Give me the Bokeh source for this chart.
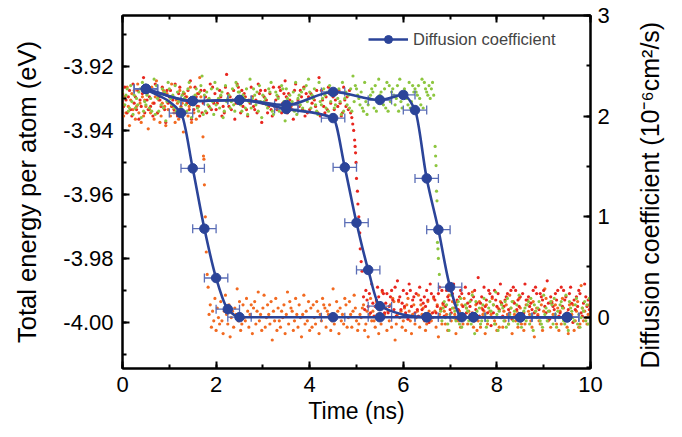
import math
from bokeh.plotting import figure
from bokeh.models import (Range1d, LinearAxis, SingleIntervalTicker,
                          PrintfTickFormatter, CustomJSTickFormatter, Legend,
                          LegendItem, ColumnDataSource)
from bokeh.embed import file_html
from bokeh.resources import INLINE

# ---------------- data ----------------
STEP = 0.025          # sampling interval of the energy traces (ns)
NOISE_SCALE = 0.001   # eV per noise letter step ('a'..'t', centre between 'j' and 'k')

# orange run
ORANGE_UP_START = 0.0
ORANGE_UP_LEVEL = -3.932
ORANGE_UP_NOISE = ("kgmhpjdlni" "ofjqhkemgl" "jncihpkfmr" "hlegkojdni"
                   "mgqjhelkfo" "ikbnhmgjpe" "lhkfnjsm")
ORANGE_DROP_T = [1.72, 1.73, 1.74, 1.75, 1.77, 1.79, 1.81, 1.83]
ORANGE_DROP_E = [-3.942, -3.948, -3.949, -3.957, -3.967, -3.978, -3.985, -3.989]
ORANGE_LOW_START = 1.85
ORANGE_LOW_LEVEL = -3.997
ORANGE_LOW_NOISE = ("jmfkhoelig" "nhdkpjgmci" "kfljrhnegm" "ihokfjmdln"
                    "gkqhjelpfi" "mjgnbkhoel" "hfkimdjqgn" "lkehojfmic"
                    "jpgkhnelfm" "ignkdjhoml" "fkjmehrgin" "kdlhjgomfi"
                    "njfkplhegj" "ilmegkcjoh" "khfnjdmgqi" "jlekhmfonb"
                    "gjnikfhlem" "okhdjmgikp" "fmjlhegnkj" "hiokfmcjlg"
                    "mkgjepihnl" "jdnhkfmgoi" "lgkjiqfhme" "hnfljkdmgi"
                    "kjomhgelfn" "ifkhmjgpld" "njhkfolgie" "gmikjhfnck"
                    "ljhgmekroi" "hkfnjimgle" "kgolhjfdmi" "jmehknfgsl"
                    "hkigjm")

# red run
RED_UP_START = 0.0
RED_UP_LEVEL = -3.930
RED_UP_NOISE = ("lhnjfkmgeo" "ikgmdjhlqf" "njgkhmeiol" "fkjhnlgcmi"
                "kmhjgofeln" "hjlfkimgpd" "jgnkhlemfi" "mkfjhognil"
                "gijmkehfnr" "lhkgjmdion" "jfmhlkgeji" "nkhgjfolmc"
                "ikmjfhlgen" "hjgknmfilp" "kfljhgdmoi" "jhmkgnelfk"
                "glikjhmfqe" "mjhfkgnlid" "kgjlhmiefn" "jhkgmf")
RED_DROP_T = [4.90, 4.92, 4.94, 4.96, 4.97, 4.98, 4.99, 5.00, 5.02, 5.03,
              5.05, 5.07, 5.08, 5.10, 5.12]
RED_DROP_E = [-3.936, -3.938, -3.940, -3.943, -3.945, -3.947, -3.950, -3.955,
              -3.959, -3.963, -3.967, -3.972, -3.977, -3.981, -3.984]
RED_LOW_START = 5.15
RED_LOW_LEVEL = -3.9925
RED_LOW_NOISE = ("kgmjhlfoie" "hjnkgdmlfi" "lfhkmjgnep" "jkgimhfldo"
                 "mhjkflgenj" "gikhmjcolf" "kjfhlngmie" "hmkjgfloid"
                 "jgkmlhenfi" "lhjfkmgiqe" "ikgnhjfmlb" "kfmjhlgoie"
                 "hjklgfmdni" "mgjhkelfoj" "jkhigmfnle" "glkjmhfpid"
                 "kihgljmefn" "hmjkfglnic" "jgkhmlfeio" "khjg")

# green run
GREEN_UP_START = 0.0
GREEN_UP_LEVEL = -3.9295
GREEN_UP_NOISE = ("ljhkmfgnie" "kgjhlmdofi" "hkmgjflpen" "jfkhmglcio"
                  "mjhkgnflie" "gkljhfmoid" "jhkmgflnqe" "kflhjgmieo"
                  "hmjgkldfni" "jkgimhfonl" "lhfkjgmeip" "gjmkhlfnid"
                  "kijhgmlofe" "hlkjfgnmic" "mjgkhilfoe" "jkhlgmfnip"
                  "lgkjmhfeoi" "hjmkglfnid" "kghljmieof" "jlhkgmfqin"
                  "mkjhlgfoie" "hjkmlgnfip" "kljhmgofni" "lmkhjnfpig"
                  "kmljhoginl" "mlknjhpgom" "lknjmok")
GREEN_DROP_T = [6.68, 6.69, 6.70, 6.71, 6.72, 6.73, 6.74, 6.75, 6.77]
GREEN_DROP_E = [-3.945, -3.948, -3.951, -3.959, -3.962, -3.975, -3.977, -3.980, -3.985]
GREEN_LOW_START = 6.80
GREEN_LOW_LEVEL = -3.996
GREEN_LOW_NOISE = ("jgkmhlfdio" "khjglmfnei" "hlkjgmfoic" "mjhkfglnie"
                   "gkmjhlfpid" "jhlkgmenfi" "kmgjhlfoie" "hjkglmfnid"
                   "ljhkmgfeoi" "kgjhmlfnie" "jhlmkgfoid" "mkjhglnfie"
                   "hkjmglfn")

# diffusion coefficient (10^-6 cm^2/s), three runs
D1_T = [0.5, 1.25, 1.5, 1.75, 2.0, 2.25, 2.5, 4.5, 5.5, 6.5, 7.5, 8.5, 9.5]
D1_V = [2.27, 2.03, 1.48, 0.88, 0.39, 0.08, 0.0, 0.0, 0.0, 0.0, 0.0, 0.0, 0.0]
D1_ERR = [0.25] * len(D1_T)
D2_T = [0.5, 1.5, 2.5, 3.5, 4.5, 4.75, 5.0, 5.25, 5.5, 6.5, 7.5, 8.5, 9.5]
D2_V = [2.27, 2.15, 2.16, 2.07, 1.98, 1.49, 0.94, 0.47, 0.11, 0.0, 0.0, 0.0, 0.0]
D2_ERR = [0.25] * len(D2_T)
D3_T = [0.5, 1.5, 2.5, 3.5, 4.5, 5.5, 6.0, 6.25, 6.5, 6.75, 7.0, 7.25, 7.5, 8.5, 9.5]
D3_V = [2.27, 2.15, 2.16, 2.11, 2.24, 2.16, 2.21, 2.06, 1.38, 0.87, 0.30, 0.0, 0.0, 0.0, 0.0]
D3_ERR = [0.25] * len(D3_T)

X_TICK_INTERVAL = 2
Y_TICK_INTERVAL = 0.02
D_TICK_INTERVAL = 1
RIGHT_TITLE = "Diffusion coefficient (10\u207b\u2076cm\u00b2/s)"

# ---------------- styles ----------------
FONT = "Liberation Sans"
ORANGE = "#f26a21"
RED = "#e8261f"
GREEN = "#8dc63f"
BLUE = "#2b4499"
ERRC = "#5a6db6"


def band(start, level, noise):
    t = [start + i * STEP for i in range(len(noise))]
    e = [level + (ord(c) - ord("a") - 9.5) * NOISE_SCALE for c in noise]
    return t, e


def run_series(up, drop_t, drop_e, low):
    ut, ue = band(*up)
    lt, le = band(*low)
    return ut + list(drop_t) + lt, ue + list(drop_e) + le


def pchip_slopes(x, y):
    n = len(x)
    h = [x[i + 1] - x[i] for i in range(n - 1)]
    d = [(y[i + 1] - y[i]) / h[i] for i in range(n - 1)]
    m = [0.0] * n
    m[0] = d[0]
    m[-1] = d[-1]
    for i in range(1, n - 1):
        if d[i - 1] * d[i] <= 0:
            m[i] = 0.0
        else:
            w1 = 2 * h[i] + h[i - 1]
            w2 = h[i] + 2 * h[i - 1]
            m[i] = (w1 + w2) / (w1 / d[i - 1] + w2 / d[i])
    return m


def bezier_source(x, y):
    m = pchip_slopes(x, y)
    cols = dict(x0=[], y0=[], x1=[], y1=[], cx0=[], cy0=[], cx1=[], cy1=[])
    for i in range(len(x) - 1):
        h = x[i + 1] - x[i]
        cols["x0"].append(x[i]); cols["y0"].append(y[i])
        cols["x1"].append(x[i + 1]); cols["y1"].append(y[i + 1])
        cols["cx0"].append(x[i] + h / 3); cols["cy0"].append(y[i] + m[i] * h / 3)
        cols["cx1"].append(x[i + 1] - h / 3); cols["cy1"].append(y[i + 1] - m[i + 1] * h / 3)
    return ColumnDataSource(cols)


p = figure(width=680, height=435, x_range=Range1d(0, 10),
           y_range=Range1d(-4.0144, -3.9041),
           output_backend="svg", toolbar_location=None,
           min_border_left=122, min_border_right=88,
           min_border_top=15, min_border_bottom=67,
           x_axis_location=None, y_axis_location=None)
p.extra_y_ranges = {"diff": Range1d(-0.51, 3.0)}
p.grid.visible = False
p.outline_line_color = "black"
p.outline_line_width = 2
p.background_fill_color = "white"
p.border_fill_color = "white"


def style_axis(ax, title_size="23px"):
    ax.axis_line_width = 2
    ax.axis_line_color = "black"
    ax.major_tick_line_width = 2
    ax.minor_tick_line_width = 2
    ax.major_tick_in = 7
    ax.major_tick_out = 0
    ax.minor_tick_in = 4
    ax.minor_tick_out = 0
    ax.major_label_text_font = FONT
    ax.major_label_text_font_size = "22px"
    ax.major_label_text_color = "black"
    ax.axis_label_text_font = FONT
    ax.axis_label_text_font_size = title_size
    ax.axis_label_text_font_style = "normal"
    ax.axis_label_text_color = "black"


xb = LinearAxis(ticker=SingleIntervalTicker(interval=X_TICK_INTERVAL, num_minor_ticks=2),
                axis_label="Time (ns)")
style_axis(xb)
xb.major_label_standoff = 8
xb.axis_label_standoff = 3
p.add_layout(xb, "below")

xt = LinearAxis(ticker=SingleIntervalTicker(interval=X_TICK_INTERVAL, num_minor_ticks=2),
                formatter=CustomJSTickFormatter(code="return ''"))
style_axis(xt)
xt.major_label_standoff = 0
p.add_layout(xt, "above")

yl = LinearAxis(ticker=SingleIntervalTicker(interval=Y_TICK_INTERVAL, num_minor_ticks=2),
                formatter=PrintfTickFormatter(format="%.2f"),
                axis_label="Total energy per atom (eV)")
style_axis(yl, "25.5px")
yl.major_label_standoff = 9
yl.axis_label_standoff = 19
p.add_layout(yl, "left")

yr = LinearAxis(y_range_name="diff",
                ticker=SingleIntervalTicker(interval=D_TICK_INTERVAL, num_minor_ticks=2),
                axis_label=RIGHT_TITLE)
style_axis(yr, "25px")
yr.major_label_standoff = 7
yr.axis_label_standoff = 37
# read bottom-to-top like the left title; anchored at the lower end of the axis
yr.axis_label_orientation = math.pi / 2
yr.axis_label_align = "start"
yr.axis_label_text_baseline = "middle"
p.add_layout(yr, "right")

# energy traces
for up, dt, de, low, col in [
    ((ORANGE_UP_START, ORANGE_UP_LEVEL, ORANGE_UP_NOISE), ORANGE_DROP_T, ORANGE_DROP_E,
     (ORANGE_LOW_START, ORANGE_LOW_LEVEL, ORANGE_LOW_NOISE), ORANGE),
    ((RED_UP_START, RED_UP_LEVEL, RED_UP_NOISE), RED_DROP_T, RED_DROP_E,
     (RED_LOW_START, RED_LOW_LEVEL, RED_LOW_NOISE), RED),
    ((GREEN_UP_START, GREEN_UP_LEVEL, GREEN_UP_NOISE), GREEN_DROP_T, GREEN_DROP_E,
     (GREEN_LOW_START, GREEN_LOW_LEVEL, GREEN_LOW_NOISE), GREEN),
]:
    t, e = run_series(up, dt, de, low)
    p.scatter(t, e, size=3.2, marker="circle", fill_color=col, line_color=None)

# diffusion coefficient curves: error bars, smooth lines, markers
for T, V, ERR in [(D1_T, D1_V, D1_ERR), (D2_T, D2_V, D2_ERR), (D3_T, D3_V, D3_ERR)]:
    lo = [t - e for t, e in zip(T, ERR)]
    hi = [t + e for t, e in zip(T, ERR)]
    p.segment(x0=lo, y0=V, x1=hi, y1=V, line_color=ERRC, line_width=1.3,
              y_range_name="diff")
    p.scatter(lo + hi, V + V, marker="dash", angle=math.pi / 2, size=9,
              line_color=ERRC, line_width=1.3, y_range_name="diff")

for T, V in [(D1_T, D1_V), (D2_T, D2_V), (D3_T, D3_V)]:
    p.bezier(x0="x0", y0="y0", x1="x1", y1="y1", cx0="cx0", cy0="cy0",
             cx1="cx1", cy1="cy1", source=bezier_source(T, V),
             line_color=BLUE, line_width=2.6, y_range_name="diff")

dot_renderers = []
for T, V in [(D1_T, D1_V), (D2_T, D2_V), (D3_T, D3_V)]:
    dot_renderers.append(p.scatter(T, V, size=9.5, marker="circle", fill_color=BLUE,
                                   line_color=BLUE, y_range_name="diff"))

# one-point line: draws nothing in the plot, only gives the legend its line sample
leg_line = p.line(D1_T[:1], D1_V[:1], line_color=BLUE, line_width=2.6, y_range_name="diff")
legend = Legend(items=[LegendItem(label="Diffusion coefficient",
                                  renderers=[leg_line, dot_renderers[0]])],
                location=(246, 319), padding=0, margin=0, spacing=0,
                glyph_width=40, glyph_height=20, label_standoff=5,
                label_text_font=FONT, label_text_font_size="16.5px",
                border_line_alpha=0, background_fill_alpha=0)
p.add_layout(legend)

open("out.html", "w").write(file_html(p, INLINE))
